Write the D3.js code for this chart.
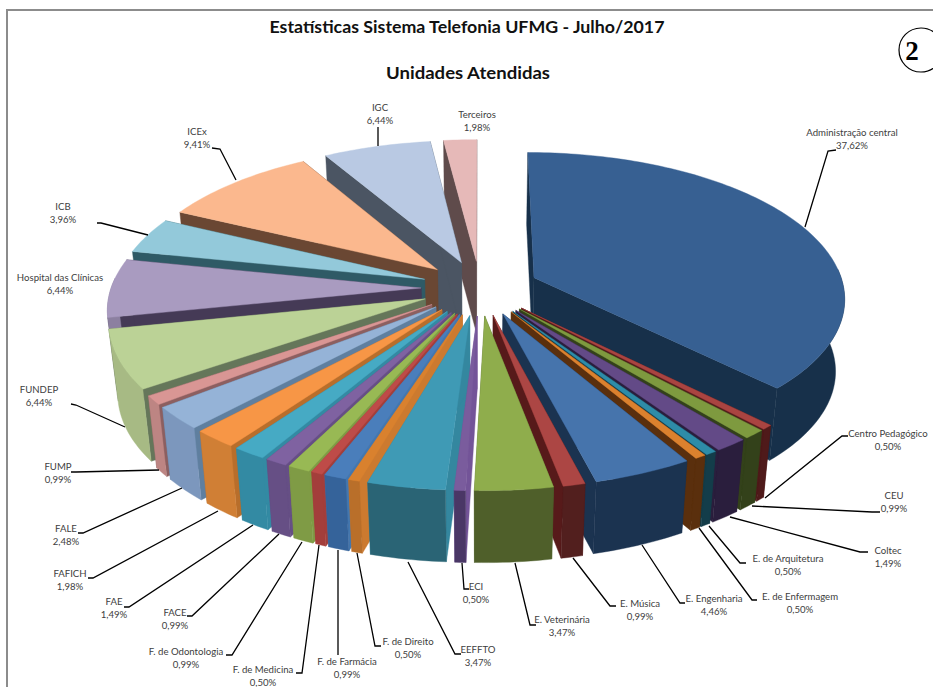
<!DOCTYPE html>
<html><head><meta charset="utf-8">
<script src="https://cdn.jsdelivr.net/npm/d3@7"></script>
<style>html,body{margin:0;padding:0;background:#fff}svg{display:block}text{font-family:Lato,"Open Sans",sans-serif}</style>
</head><body><div id="c"></div>
<script>
const categories=["Administração central","Centro Pedagógico","CEU","Coltec","E. de Arquitetura","E. de Enfermagem","E. Engenharia","E. Música","E. Veterinária","ECI","EEFFTO","F. de Direito","F. de Farmácia","F. de Medicina","F. de Odontologia","FACE","FAE","FAFICH","FALE","FUMP","FUNDEP","Hospital das Clínicas","ICB","ICEx","IGC","Terceiros"];
const values=[37.62,0.50,0.99,1.49,0.50,0.50,4.46,0.99,3.47,0.50,3.47,0.50,0.99,0.50,0.99,0.99,1.49,1.98,2.48,0.99,6.44,6.44,3.96,9.41,6.44,1.98];
const topColors=["#376092","#AA4441","#7E9A3F","#634A87","#2E8CA8","#DB812E","#4674AC","#AC4644","#8FAD4C","#7A5C9D","#3F9AB5","#D9812E","#4A7EBB","#BE4B48","#98B954","#7F62A1","#46AAC4","#F79646","#95B3D7","#D99694","#BBD296","#A99BC0","#93C9DA","#FBB88E","#B9C9E3","#E6B9B8"];
const wallColors=["#17304A","#4F1A1A","#33411A","#2A1E3D","#133D4A","#5A2F0D","#1B3350","#521F1E","#4F5F2A","#4A3766","#2A6475","#B96F2A","#35639A","#A33E3B","#7F9B45","#664F85","#338AA3","#D07F35","#7C97BD","#BD8583","#A7BA84","#8C80A0","#7AA8B6","#D29A76","#9AA8BD","#C09A99"];
const sideColors=["#17304A","#4F1A1A","#33411A","#2A1E3D","#133D4A","#5A2F0D","#1B3350","#571A1A","#4F5F2A","#735498","#34879F","#CC7A2F","#4477AE","#A33E3B","#7F9B45","#664F85","#338AA3","#B86E2B","#5F7F9F","#8C5F60","#65765A","#453A56","#2F5A66","#6A4733","#4B5563","#5F4B4B"];
// [line start, elbow, tick end] for each leader; null = label sits beside its slice
const leaders=[[[805,227],[828,151],[836,150]],[[765,498],[842,436],[848,436]],[[752,506],[872,512],[880,512]],[[730,517],[860,552],[868,552]],[[709,526],[740,563],[746,563]],[[699,528],[752,600],[757,600]],[[642,545],[680,603],[685,603]],[[573,558],[610,606],[616,606]],[[515,563],[530,625],[536,625]],[[462,563],[464,589],[469,589]],[[408,562],[455,654],[461,654]],[[357,553],[375,646],[381,646]],[[338,550],[338,655],[338,655]],[[319,545],[302,673],[296,673]],[[302,542],[232,655],[226,655]],[[279,534],[192,616],[187,616]],[[253,525],[129,607],[124,607]],[[218,511],[93,578],[88,578]],[[182,488],[83,533],[78,533]],[[159,470],[76,472],[71,472]],[[125,427],[76,405],[71,404]],null,[[148,235],[101,223],[97,223]],[[236,180],[220,149],[212,148]],[[378,146],[378,127],[378,127]],null];
const labelCenters=[[852,133],[888,434],[894,496],[888,551],[788,559],[800,597],[714,599],[640,604],[562,620],[476,587],[478,650],[408,642],[347,662],[263,670],[186,652],[175,613],[114,602],[70,574],[66,529],[58,467],[39,390],[60,278],[63,207],[197,132],[380,108],[477,115]];

const W=933,H=687,cx=480,cy=288,Rx=310,Ry=144,explode=.19,persp=.13,depth=72,conv=.975;
const sx=d3.scaleLinear().domain([-1,1]).range([cx-Rx,cx+Rx]);
const sy=d3.scaleLinear().domain([-1,1]).range([cy-Ry,cy+Ry]);
const svg=d3.select("#c").append("svg").attr("width",W).attr("height",H);
const pts=(X,Z)=>{const w=1-persp*Z;return [sx(X/w),sy(Z/w)];};
const down=p=>[cx+(p[0]-cx)*conv,p[1]+depth];
const line=d3.line();
const pie=d3.pie().sort(null).value(d=>d)(values);

const slices=pie.map((a,i)=>{
  const m=(a.startAngle+a.endAngle)/2;
  const ox=explode*Math.sin(m),oz=-explode*Math.cos(m);
  const n=Math.max(2,Math.ceil((a.endAngle-a.startAngle)/.02));
  const ts=d3.range(n+1).map(k=>a.startAngle+(a.endAngle-a.startAngle)*k/n);
  const at=t=>pts(ox+Math.sin(t),oz-Math.cos(t));
  return {i,oz,apex:pts(ox,oz),arc:ts.map(at),front:ts.filter(t=>-Math.cos(t)>-.08).map(at)};
}).sort((p,q)=>p.oz-q.oz);

const g=svg.append("g");
const mark=g.selectAll("g").data(slices).join("g");
const fill=(c)=>(s)=>c[s.i];
const addPoly=(fn,col,cls)=>mark.append("path").attr("class",cls).attr("d",s=>{const p=fn(s);return p.length?line(p)+"Z":null;}).attr("fill",fill(col)).attr("stroke",fill(col)).attr("stroke-width",.4);
addPoly(s=>[s.apex,s.arc[0],down(s.arc[0]),down(s.apex)],sideColors,"side");
addPoly(s=>[s.apex,s.arc[s.arc.length-1],down(s.arc[s.arc.length-1]),down(s.apex)],sideColors,"side");
addPoly(s=>s.front.length>1?s.front.concat(s.front.slice().reverse().map(down)):[],wallColors,"wall");
addPoly(s=>[s.apex].concat(s.arc),topColors,"top");

// frame
svg.append("path").attr("d",line([[7,H],[7,10],[W,10]])).attr("fill","none").attr("stroke","#8c8c8c").attr("stroke-width",2);

// leaders
svg.append("g").selectAll("path").data(leaders.filter(Boolean)).join("path")
  .attr("d",d=>line(d)).attr("fill","none").attr("stroke","#000").attr("stroke-width",1.3);

// labels
const lab=svg.append("g").attr("fill","#404040").attr("font-size",9.6).attr("text-anchor","middle");
categories.forEach((c,i)=>{
  const [x,y]=labelCenters[i];
  lab.append("text").attr("x",x).attr("y",y+3).text(c);
  lab.append("text").attr("x",x).attr("y",y+16).text(d3.format(".2f")(values[i]).replace(".",",")+"%");
});
svg.append("text").attr("x",467).attr("y",33).attr("text-anchor","middle").attr("font-weight",700).attr("font-size",17.5).attr("fill","#111").attr("textLength",395).attr("lengthAdjust","spacingAndGlyphs").text("Estatísticas Sistema Telefonia UFMG - Julho/2017");
svg.append("text").attr("x",468).attr("y",79).attr("text-anchor","middle").attr("font-weight",700).attr("font-size",17.5).attr("fill","#111").attr("textLength",164).attr("lengthAdjust","spacingAndGlyphs").text("Unidades Atendidas");
svg.append("circle").attr("cx",921).attr("cy",50).attr("r",22).attr("fill","#fff").attr("stroke","#000").attr("stroke-width",1.2);
svg.append("text").attr("x",912).attr("y",60).attr("text-anchor","middle").style("font-family","'Liberation Serif',serif").attr("font-weight",700).attr("font-size",27).attr("fill","#000").text("2");
</script></body></html>
